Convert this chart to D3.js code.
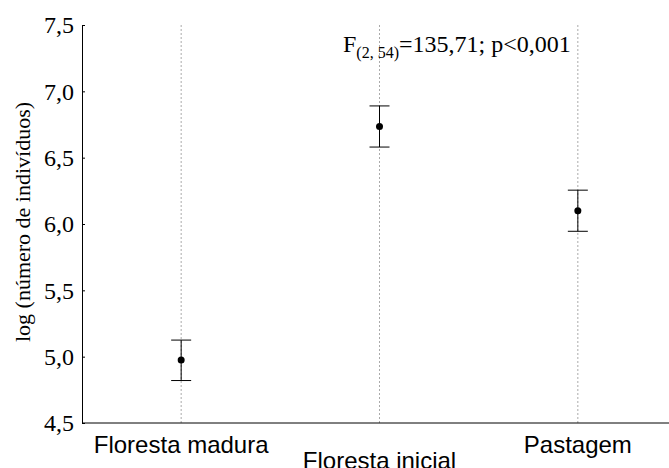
<!DOCTYPE html>
<meta charset="utf-8">
<head>
  <style>
    body { margin: 0; background: #fff; }
    .xlab { font-family: "Liberation Sans", Arial, sans-serif; font-size: 24px; fill: #000; }
    .ylab { font-family: "Liberation Serif", "Times New Roman", serif; font-size: 22px; fill: #000; }
    .ann { font-family: "Liberation Serif", "Times New Roman", serif; font-size: 24px; fill: #000; }
    svg g.tick text { font-family: "Liberation Serif", "Times New Roman", serif !important; font-size: 24px; fill: #000; }
  </style>
</head>
<body>
<div id="chart"></div>
<script src="https://d3js.org/d3.v7.min.js"></script>
<script>

var categories = ["Floresta madura", "Floresta inicial", "Pastagem"];
var means = [4.975, 6.735, 6.10];
var upper = [5.125, 6.89, 6.255];
var lower = [4.82, 6.58, 5.945];
var yTicks = [4.5, 5.0, 5.5, 6.0, 6.5, 7.0, 7.5];

var width = 669, height = 468;
var left = 82, plotTop = 25, plotBottom = 423;

var svg = d3.select("#chart").append("svg")
    .attr("width", width)
    .attr("height", height);

var x = d3.scalePoint()
    .domain(categories)
    .range([left, 677])
    .padding(0.5);

var y = d3.scaleLinear()
    .domain([4.5, 7.5])
    .range([plotBottom, plotTop]);

var fmt = function(d) { return d3.format(".1f")(d).replace(".", ","); };

// dotted guide lines at each category
svg.selectAll(".guide")
  .data(categories)
  .enter().append("line")
    .attr("x1", function(d) { return x(d); })
    .attr("x2", function(d) { return x(d); })
    .attr("y1", plotTop)
    .attr("y2", plotBottom)
    .attr("stroke", "#aaa")
    .attr("stroke-width", 1)
    .attr("stroke-dasharray", "2,2");

// y axis (small ticks pointing inward)
var yAxis = svg.append("g")
    .attr("transform", "translate(" + left + ",0)")
    .call(d3.axisLeft(y).tickValues(yTicks).tickFormat(fmt).tickSizeInner(-3).tickSizeOuter(0).tickPadding(8));
yAxis.attr("font-family", null).attr("font-size", null);
yAxis.select(".domain").attr("stroke", "#000");
yAxis.selectAll(".tick line").attr("stroke", "#000");
yAxis.selectAll(".tick text")
    .attr("x", -8)
    .style("font-family", "'Liberation Serif', 'Times New Roman', serif");

// x axis line
svg.append("line")
    .attr("x1", left).attr("x2", width)
    .attr("y1", plotBottom).attr("y2", plotBottom)
    .attr("stroke", "#000");

// x labels, middle one staggered down
svg.selectAll(".xlab")
  .data(categories)
  .enter().append("text")
    .attr("class", "xlab")
    .attr("x", function(d) { return x(d); })
    .attr("y", function(d, i) { return i == 1 ? 469 : 453; })
    .attr("text-anchor", "middle")
    .text(function(d) { return d; });

// y label
svg.append("text")
    .attr("class", "ylab")
    .attr("transform", "translate(30,222) rotate(-90)")
    .attr("text-anchor", "middle")
    .text("log (número de indivíduos)");

// error bars
var g = svg.selectAll(".bar")
  .data(categories)
  .enter().append("g");

g.append("line")
    .attr("x1", function(d) { return x(d); })
    .attr("x2", function(d) { return x(d); })
    .attr("y1", function(d, i) { return y(upper[i]); })
    .attr("y2", function(d, i) { return y(lower[i]); })
    .attr("stroke", "#000");

[upper, lower].forEach(function(arr) {
  g.append("line")
      .attr("x1", function(d) { return x(d) - 10; })
      .attr("x2", function(d) { return x(d) + 10; })
      .attr("y1", function(d, i) { return y(arr[i]); })
      .attr("y2", function(d, i) { return y(arr[i]); })
      .attr("stroke", "#000");
});

g.append("circle")
    .attr("cx", function(d) { return x(d); })
    .attr("cy", function(d, i) { return y(means[i]); })
    .attr("r", 3.5)
    .attr("fill", "#000");

// annotation
var ann = svg.append("text")
    .attr("class", "ann")
    .attr("x", 343)
    .attr("y", 52);
ann.append("tspan").text("F");
ann.append("tspan").attr("dy", 6).style("font-size", "16px").text("(2, 54)");
ann.append("tspan").attr("dy", -6).text("=135,71; p<0,001");

</script>
</body>
